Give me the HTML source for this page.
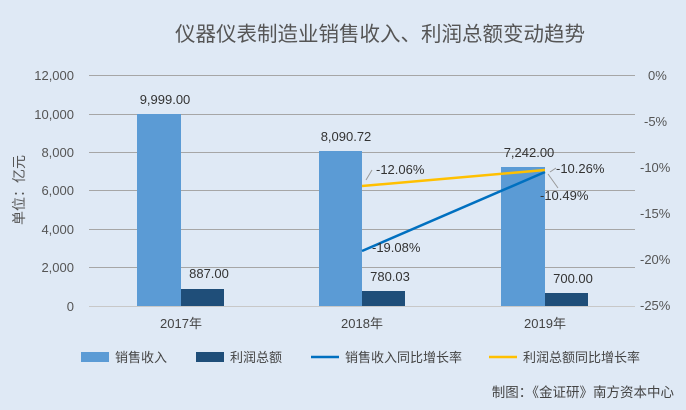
<!DOCTYPE html>
<html><head><meta charset="utf-8"><style>
body{margin:0;background:#dfe9f5;}
svg{display:block;font-family:"Liberation Sans","Noto Sans CJK SC",sans-serif;}
</style></head><body>
<svg width="686" height="410" viewBox="0 0 686 410">
<rect width="686" height="410" fill="#dfe9f5"/>
<text x="380" y="41" font-size="20.5" fill="#555" text-anchor="middle">仪器仪表制造业销售收入、利润总额变动趋势</text>
<g stroke="#a6a6a6" stroke-width="1">
<line x1="89" x2="635" y1="75.5" y2="75.5"/><line x1="89" x2="635" y1="114.5" y2="114.5"/>
<line x1="89" x2="635" y1="152.5" y2="152.5"/><line x1="89" x2="635" y1="190.5" y2="190.5"/>
<line x1="89" x2="635" y1="229.5" y2="229.5"/><line x1="89" x2="635" y1="267.5" y2="267.5"/>
</g>
<line x1="89" x2="635" y1="306.5" y2="306.5" stroke="#c8c8c8"/>
<g font-size="13" fill="#555" text-anchor="end">
<text x="74" y="80">12,000</text><text x="74" y="119">10,000</text><text x="74" y="157">8,000</text>
<text x="74" y="195">6,000</text><text x="74" y="234">4,000</text><text x="74" y="272">2,000</text><text x="74" y="311">0</text>
</g>
<g font-size="13" fill="#555">
<text x="648" y="80">0%</text><text x="644" y="126">-5%</text><text x="640" y="172">-10%</text>
<text x="640" y="218">-15%</text><text x="640" y="264">-20%</text><text x="640" y="310">-25%</text>
</g>
<text transform="translate(24,190) rotate(-90)" font-size="14" fill="#555" text-anchor="middle">单位：亿元</text>
<g fill="#5b9bd5">
<rect x="137" y="114" width="44" height="192"/><rect x="319" y="151" width="43" height="155"/><rect x="501" y="167" width="44" height="139"/>
</g>
<g fill="#1f4e79">
<rect x="181" y="289" width="43" height="17"/><rect x="362" y="291" width="43" height="15"/><rect x="545" y="293" width="43" height="13"/>
</g>
<g font-size="13" fill="#333" text-anchor="middle">
<text x="165" y="104">9,999.00</text><text x="209" y="278">887.00</text>
<text x="346" y="141">8,090.72</text><text x="390" y="281">780.03</text>
<text x="529" y="157">7,242.00</text><text x="573" y="283">700.00</text>
</g>
<g font-size="13" fill="#444" text-anchor="middle">
<text x="181" y="328">2017年</text><text x="362" y="328">2018年</text><text x="545" y="328">2019年</text>
</g>
<line x1="362" y1="251" x2="545" y2="172" stroke="#0070c0" stroke-width="2.5"/>
<line x1="362" y1="186" x2="545" y2="170" stroke="#ffc000" stroke-width="2.5"/>
<line x1="366" y1="180" x2="372" y2="170" stroke="#999"/>
<line x1="550" y1="172" x2="556" y2="168" stroke="#999"/>
<line x1="548" y1="174" x2="558" y2="188" stroke="#999"/>
<g font-size="13" fill="#333">
<text x="376" y="174">-12.06%</text><text x="372" y="252">-19.08%</text>
<text x="556" y="173">-10.26%</text><text x="540" y="200">-10.49%</text>
</g>
<g font-size="13" fill="#444">
<rect x="81" y="352" width="28" height="10" fill="#5b9bd5"/><text x="115" y="362">销售收入</text>
<rect x="196" y="352" width="28" height="10" fill="#1f4e79"/><text x="230" y="362">利润总额</text>
<line x1="311" x2="339" y1="357" y2="357" stroke="#0070c0" stroke-width="2.5"/><text x="345" y="362">销售收入同比增长率</text>
<line x1="489" x2="517" y1="357" y2="357" stroke="#ffc000" stroke-width="2.5"/><text x="523" y="362">利润总额同比增长率</text>
</g>
<text x="674" y="397" font-size="13.5" fill="#444" text-anchor="end">制图：《金证研》南方资本中心</text>
</svg>
</body></html>
